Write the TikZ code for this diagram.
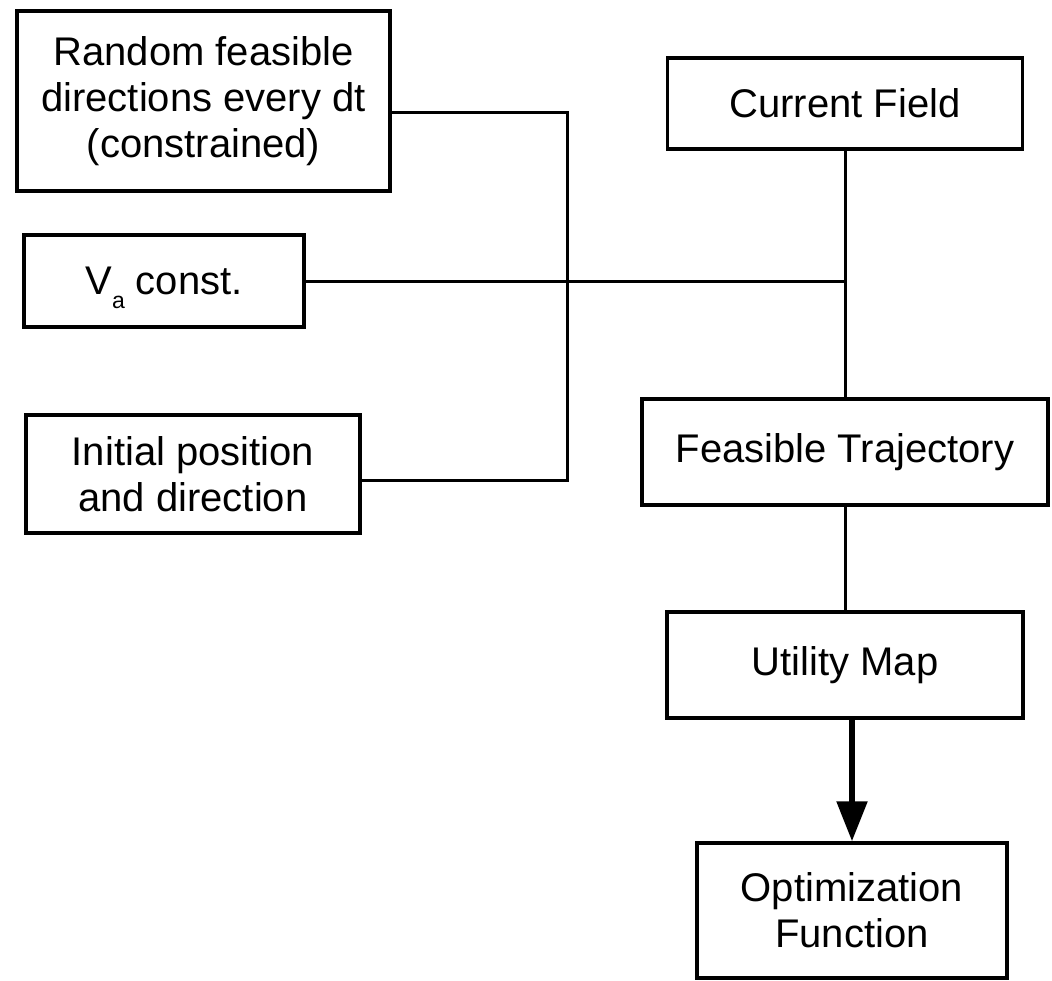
\documentclass[tikz,border=0pt]{standalone}
\usepackage{fontspec}
\setmainfont{Liberation Sans}
\usetikzlibrary{arrows.meta}

\begin{document}
\begin{tikzpicture}[x=1pt, y=-1pt,
  box/.style={draw, line width=3.5pt, inner sep=0pt, align=center,
              font=\fontsize{40}{46}\selectfont},
  link/.style={line width=3pt},
  flow/.style={line width=5.5pt, -{Triangle[width=30pt,length=40pt]}}]
  \useasboundingbox (0,0) rectangle (1052,980);

  % inputs on the left
  \node[box, minimum width=373pt, minimum height=180pt] (R) at (203.5,101)
    {Random feasible\\directions every dt\\(constrained)};
  \node[box, minimum width=280pt, minimum height=92pt] (V) at (164,281)
    {V\raisebox{-14pt}[0pt][0pt]{\fontsize{23}{23}\selectfont a} const.};
  \node[box, minimum width=334pt, minimum height=118pt] (I) at (193,474)
    {Initial position\\and direction};

  % main chain on the right
  \node[box, minimum width=355pt, minimum height=91pt] (C) at (845,103.5)
    {Current Field};
  \node[box, minimum width=406pt, minimum height=106pt] (F) at (845,452)
    {Feasible Trajectory};
  \node[box, minimum width=356pt, minimum height=106pt] (U) at (845,665)
    {Utility Map};
  \node[box, minimum width=310pt, minimum height=135pt] (O) at (852,910.5)
    {Optimization\\Function};

  % connectors
  \coordinate (bus) at (567,300);
  \coordinate (join) at (C.south |- V.east);
  \draw[link] ([yshift=-11pt]R.east) -| (bus) |- ([yshift=-6pt]I.east);
  \draw[link] (V.east) -- (join);
  \draw[link] (C.south) -- (F.north);
  \draw[link] (F.south) -- (U.north);
  \draw[flow] (U.south -| O.north) -- (O.north);
\end{tikzpicture}
\end{document}
